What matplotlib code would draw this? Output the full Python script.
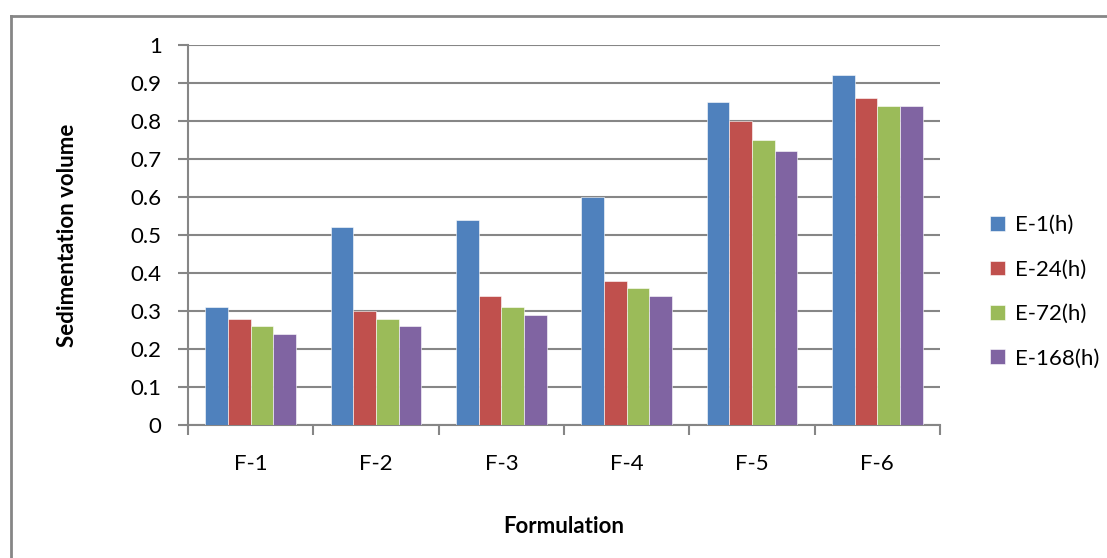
import numpy as np
import matplotlib.pyplot as plt
from matplotlib.lines import Line2D

plt.rcParams['font.family'] = ['Lato', 'DejaVu Sans']

formulations = ['F-1', 'F-2', 'F-3', 'F-4', 'F-5', 'F-6']
series_names = ['E-1(h)', 'E-24(h)', 'E-72(h)', 'E-168(h)']
e1 = [0.31, 0.52, 0.54, 0.60, 0.85, 0.92]
e24 = [0.28, 0.30, 0.34, 0.38, 0.80, 0.86]
e72 = [0.26, 0.28, 0.31, 0.36, 0.75, 0.84]
e168 = [0.24, 0.26, 0.29, 0.34, 0.72, 0.84]
yticks = [0, 0.1, 0.2, 0.3, 0.4, 0.5, 0.6, 0.7, 0.8, 0.9, 1]
ytick_labels = ['0', '0.1', '0.2', '0.3', '0.4', '0.5', '0.6', '0.7', '0.8', '0.9', '1']

colors = ['#4F81BD', '#C0504D', '#9BBB59', '#8064A2']
grid_col = '#868686'
fs = 16

fig = plt.figure(figsize=(11.07, 5.58), dpi=100)
ax = fig.add_axes([188 / 1107, 1 - 425 / 558, (940 - 188) / 1107, (425 - 45) / 558])

x = np.arange(len(formulations))
w = 0.181
for i, vals in enumerate([e1, e24, e72, e168]):
    ax.bar(x + (i - 1.5) * w, vals, w, color=colors[i], label=series_names[i],
           edgecolor='white', linewidth=0.4, zorder=3)

ax.set_xlim(-0.5, len(formulations) - 0.5)
ax.set_ylim(0, 1)
ax.set_yticks(yticks)
ax.set_yticklabels(ytick_labels)
ax.set_xticks(x)
ax.set_xticklabels(formulations)
ax.set_xticks(np.arange(-0.5, len(formulations)), minor=True)
ax.tick_params(axis='x', which='major', length=0, pad=21, labelsize=fs)
ax.tick_params(axis='x', which='minor', length=7, width=1.5, color=grid_col, direction='out')
ax.tick_params(axis='y', length=7, width=1.5, color=grid_col, pad=12, labelsize=fs)

ax.yaxis.grid(True, color=grid_col, linewidth=1.5, zorder=0)
ax.set_axisbelow(True)
for s in ['top', 'right']:
    ax.spines[s].set_visible(False)
for s in ['left', 'bottom']:
    ax.spines[s].set_color(grid_col)
    ax.spines[s].set_linewidth(1.5)

ax.set_ylabel('Sedimentation volume', fontsize=fs, fontweight='bold', labelpad=38)
ax.set_xlabel('Formulation', fontsize=fs, fontweight='bold', labelpad=30)

leg = ax.legend(loc='center left', bbox_to_anchor=(1.04, 0.35), frameon=False,
                fontsize=fs, handlelength=0.65, handleheight=0.65,
                handletextpad=0.45, labelspacing=1.1)

# chart border (cropped at right and bottom)
fig.add_artist(Line2D([11 / 1107, 11 / 1107], [0, 1 - 16 / 558], transform=fig.transFigure,
                      color=grid_col, linewidth=2))
fig.add_artist(Line2D([11 / 1107, 1], [1 - 16 / 558, 1 - 16 / 558], transform=fig.transFigure,
                      color=grid_col, linewidth=2))

fig.savefig('out.png', dpi=100)
